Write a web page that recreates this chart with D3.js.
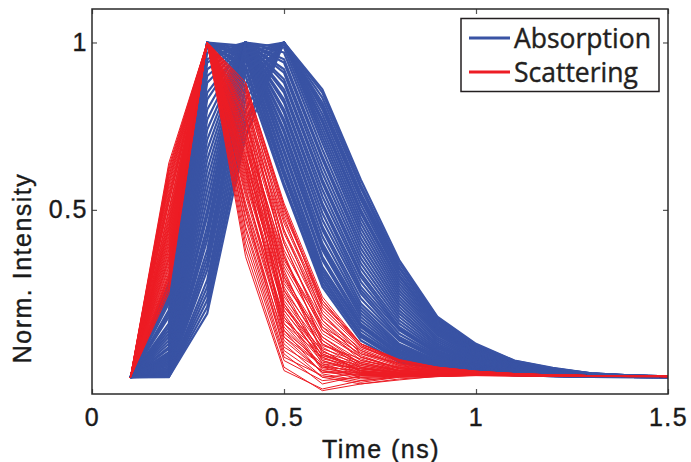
<!DOCTYPE html>
<html>
<head>
<meta charset="utf-8">
<script src="https://cdn.jsdelivr.net/npm/d3@7"></script>
<style>
  html, body { margin: 0; padding: 0; background: #ffffff; }
  svg { display: block; }
  .tick text { font-family: "Liberation Sans", Arial, sans-serif; font-size: 25px; letter-spacing: 1.5px; fill: #1a1a1a; stroke: #1a1a1a; stroke-width: 0.4px; }
  .axis-title { font-family: "Liberation Sans", Arial, sans-serif; font-size: 25px; letter-spacing: 1.5px; fill: #1a1a1a; stroke: #1a1a1a; stroke-width: 0.4px; }
  .legend-text { font-family: "Open Sans", sans-serif; font-size: 26.5px; fill: #231f20; stroke: #231f20; stroke-width: 0.4px; }
</style>
</head>
<body>
<svg id="chart" width="691" height="462"></svg>
<script>
// Sampling times of every curve (ns)
const timeNs = [0.1, 0.2, 0.3, 0.4, 0.5, 0.6, 0.7, 0.8, 0.9, 1.0, 1.1, 1.2, 1.3, 1.4, 1.5];

// Axis ticks and their labels
const xTicks = [0, 0.5, 1, 1.5];
const xTickLabels = ["0", "0.5", "1", "1.5"];
const yTicks = [0.5, 1];
const yTickLabels = ["0.5", "1"];

// Legend entries
const seriesNames = ["Absorption", "Scattering"];
const seriesColors = ["#3953a4", "#ed1c24"];

// Normalized intensity curves, absorption changes (early-peaking ones)
const absorptionEarly = [
  [0, .28, 1, .90, .57, .27, .11, .045, .025, .012, .006, .003, .001, 0, 0],
  [0, .27, 1, .92, .58, .28, .12, .05, .026, .013, .006, .003, .001, 0, 0],
  [0, .26, 1, .93, .60, .29, .125, .053, .027, .014, .007, .003, .001, .001, 0],
  [0, .25, 1, .95, .61, .30, .13, .057, .029, .014, .007, .004, .002, .001, 0],
  [0, .24, 1, .96, .62, .31, .14, .06, .03, .015, .008, .004, .002, .001, 0],
  [0, .23, 1, .97, .64, .32, .15, .065, .032, .016, .008, .004, .002, .001, 0],
  [0, .22, 1, .98, .65, .33, .155, .07, .035, .017, .009, .004, .002, .001, 0],
  [0, .20, 1, .99, .67, .35, .16, .075, .037, .018, .009, .005, .002, .001, 0],
  [0, .19, .97, 1, .68, .36, .17, .08, .04, .02, .01, .005, .002, .001, 0],
  [0, .18, .95, 1, .70, .38, .18, .085, .042, .021, .01, .005, .002, .001, 0],
  [0, .16, .94, 1, .71, .39, .19, .09, .045, .022, .011, .005, .003, .001, 0],
  [0, .15, .92, 1, .73, .40, .20, .095, .047, .024, .012, .006, .003, .001, 0],
  [0, .14, .90, 1, .74, .42, .21, .10, .05, .025, .012, .006, .003, .001, 0],
  [0, .13, .88, 1, .76, .44, .22, .11, .054, .027, .013, .007, .003, .001, 0]
];

// Absorption curves peaking around 0.4 ns
const absorptionMid = [
  [0, .12, .85, 1, .77, .45, .235, .115, .057, .028, .014, .007, .003, .002, .001],
  [0, .11, .83, 1, .79, .47, .25, .12, .061, .03, .015, .008, .004, .002, .001],
  [0, .10, .80, 1, .80, .49, .26, .13, .065, .032, .016, .008, .004, .002, .001],
  [0, .09, .77, 1, .82, .51, .27, .14, .069, .034, .017, .009, .004, .002, .001],
  [0, .085, .74, 1, .83, .52, .285, .145, .072, .036, .018, .009, .004, .002, .001],
  [0, .075, .71, 1, .85, .54, .30, .15, .076, .038, .019, .01, .005, .002, .001],
  [0, .07, .68, 1, .86, .56, .31, .16, .08, .04, .02, .01, .005, .002, .001],
  [0, .065, .65, 1, .88, .58, .325, .17, .085, .043, .021, .011, .005, .002, .001],
  [0, .06, .62, 1, .89, .59, .34, .18, .09, .045, .022, .011, .005, .003, .001],
  [0, .055, .59, 1, .91, .61, .355, .19, .095, .048, .024, .012, .006, .003, .001],
  [0, .05, .56, 1, .92, .63, .37, .20, .10, .05, .025, .013, .006, .003, .001],
  [0, .045, .53, 1, .94, .65, .385, .21, .106, .053, .027, .014, .007, .003, .001],
  [0, .04, .50, 1, .95, .66, .40, .22, .112, .056, .028, .014, .007, .003, .002],
  [0, .035, .48, 1, .97, .68, .415, .23, .118, .06, .03, .015, .007, .004, .002]
];

// Absorption curves peaking at 0.5 ns
const absorptionLate = [
  [0, .03, .45, 1, .985, .70, .43, .24, .125, .063, .031, .016, .008, .004, .002],
  [0, .025, .43, .98, 1, .715, .445, .25, .13, .066, .033, .017, .008, .004, .002],
  [0, .02, .41, .965, 1, .73, .46, .26, .135, .069, .035, .018, .009, .004, .002],
  [0, .018, .38, .95, 1, .745, .475, .27, .14, .072, .036, .019, .009, .005, .002],
  [0, .015, .36, .93, 1, .76, .49, .28, .145, .075, .038, .02, .01, .005, .002],
  [0, .012, .34, .91, 1, .77, .50, .29, .15, .078, .04, .021, .01, .005, .002],
  [0, .01, .32, .88, 1, .785, .515, .30, .155, .082, .042, .022, .01, .005, .002],
  [0, .007, .29, .86, 1, .80, .53, .305, .16, .085, .043, .023, .011, .005, .002],
  [0, .005, .27, .83, 1, .81, .54, .315, .165, .088, .045, .024, .011, .005, .002],
  [0, .003, .25, .80, 1, .82, .55, .325, .17, .091, .046, .025, .011, .006, .003],
  [0, .002, .23, .77, 1, .835, .565, .33, .173, .094, .047, .026, .012, .006, .003],
  [0, .001, .21, .75, 1, .85, .575, .34, .177, .097, .049, .027, .012, .006, .003],
  [0, 0, .19, .72, 1, .86, .59, .35, .18, .10, .05, .028, .012, .006, .003]
];

// Scattering curves with a fast decay
const scatteringFast = [
  [0, .62, 1, .36, .02, -.035, -.01, 0, .002, .005, .004, .003, .003, .002, .002],
  [0, .64, 1, .38, .03, -.04, -.02, -.005, .002, .006, .004, .003, .003, .002, .002],
  [0, .60, 1, .40, .05, -.01, 0, .003, .004, .005, .004, .003, .002, .002, .002],
  [0, .63, 1, .42, .06, .005, -.015, 0, .003, .006, .005, .004, .003, .002, .002],
  [0, .58, 1, .44, .07, -.02, .005, .004, .005, .006, .005, .004, .003, .002, .002],
  [0, .61, 1, .45, .09, .02, -.005, .002, .004, .007, .005, .004, .003, .003, .002],
  [0, .55, 1, .47, .10, 0, .01, .006, .006, .007, .005, .004, .003, .003, .002],
  [0, .59, 1, .48, .12, .035, 0, .004, .005, .006, .005, .004, .003, .003, .002],
  [0, .52, 1, .50, .11, .015, .015, .008, .006, .008, .006, .004, .003, .003, .002],
  [0, .57, 1, .51, .14, .04, .008, .005, .007, .008, .006, .004, .003, .003, .002],
  [0, .50, 1, .52, .15, .03, .02, .01, .008, .008, .006, .004, .004, .003, .002],
  [0, .54, 1, .54, .16, .06, .012, .006, .007, .009, .006, .005, .004, .003, .002],
  [0, .47, 1, .55, .18, .045, .025, .012, .009, .009, .006, .005, .004, .003, .002],
  [0, .53, 1, .56, .17, .07, .02, .008, .008, .009, .007, .005, .004, .003, .002],
  [0, .45, 1, .58, .20, .055, .03, .015, .01, .01, .007, .005, .004, .003, .003],
  [0, .50, 1, .59, .21, .08, .018, .01, .009, .01, .007, .005, .004, .003, .003],
  [0, .43, 1, .60, .22, .065, .035, .018, .012, .01, .007, .005, .004, .003, .003],
  [0, .48, 1, .62, .24, .09, .028, .012, .01, .011, .008, .005, .004, .003, .003],
  [0, .41, 1, .63, .23, .075, .04, .02, .013, .011, .008, .006, .004, .003, .003],
  [0, .46, 1, .64, .26, .10, .035, .015, .012, .011, .008, .006, .004, .003, .003]
];

// Scattering curves with a slower decay
const scatteringSlow = [
  [0, .39, 1, .65, .27, .085, .045, .022, .014, .012, .008, .006, .004, .003, .003],
  [0, .44, 1, .66, .29, .11, .04, .018, .013, .012, .008, .006, .004, .003, .003],
  [0, .37, 1, .68, .30, .12, .05, .025, .016, .012, .009, .006, .005, .004, .003],
  [0, .42, 1, .69, .31, .095, .055, .02, .015, .013, .009, .006, .005, .004, .003],
  [0, .35, 1, .70, .33, .13, .06, .028, .018, .013, .009, .006, .005, .004, .003],
  [0, .40, 1, .72, .34, .15, .05, .03, .017, .013, .009, .007, .005, .004, .003],
  [0, .33, 1, .73, .36, .14, .07, .032, .02, .014, .009, .007, .005, .004, .003],
  [0, .38, 1, .74, .35, .16, .065, .026, .019, .014, .01, .007, .005, .004, .003],
  [0, .31, 1, .76, .38, .17, .075, .035, .021, .015, .01, .007, .005, .004, .003],
  [0, .36, 1, .77, .40, .15, .08, .038, .02, .015, .01, .007, .005, .004, .003],
  [0, .30, 1, .78, .41, .18, .085, .04, .022, .015, .01, .007, .005, .004, .003],
  [0, .34, 1, .80, .43, .19, .07, .042, .024, .016, .01, .007, .005, .004, .003],
  [0, .28, 1, .81, .44, .20, .09, .045, .025, .016, .01, .007, .005, .004, .003],
  [0, .32, 1, .82, .46, .21, .095, .04, .026, .017, .01, .007, .005, .004, .003],
  [0, .27, 1, .84, .47, .22, .10, .048, .027, .017, .011, .007, .005, .004, .003],
  [0, .30, 1, .85, .49, .23, .09, .05, .028, .017, .011, .007, .005, .004, .003],
  [0, .26, 1, .86, .50, .22, .10, .052, .029, .018, .011, .007, .005, .004, .003],
  [0, .29, 1, .87, .51, .21, .095, .048, .03, .018, .011, .007, .005, .004, .003],
  [0, .25, 1, .88, .51, .23, .10, .05, .03, .018, .011, .007, .005, .004, .003],
  [0, .27, 1, .88, .52, .24, .10, .053, .03, .018, .011, .007, .005, .004, .003]
];

// Scattering curves with mixed rise and decay
const scatteringMixed = [
  [0, .60, 1, .66, .20, .05, .01, .004, .006, .008, .006, .004, .003, .003, .002],
  [0, .56, 1, .72, .26, .06, .02, .008, .008, .009, .006, .005, .004, .003, .002],
  [0, .52, 1, .78, .30, .08, .015, .01, .009, .01, .007, .005, .004, .003, .002],
  [0, .49, 1, .83, .36, .11, .03, .012, .01, .01, .007, .005, .004, .003, .003],
  [0, .45, 1, .75, .22, .04, .025, .015, .01, .01, .007, .005, .004, .003, .003],
  [0, .42, 1, .70, .18, .02, .008, .006, .008, .009, .007, .005, .004, .003, .003],
  [0, .38, 1, .79, .28, .12, .04, .02, .014, .012, .008, .006, .004, .003, .003],
  [0, .35, 1, .84, .40, .14, .06, .03, .018, .014, .009, .006, .005, .004, .003],
  [0, .33, 1, .62, .14, .01, -.01, .002, .006, .008, .006, .005, .004, .003, .002],
  [0, .31, 1, .67, .19, .025, .012, .008, .009, .01, .007, .005, .004, .003, .003],
  [0, .29, 1, .74, .32, .07, .03, .014, .012, .011, .008, .006, .004, .003, .003],
  [0, .27, 1, .80, .37, .10, .045, .02, .015, .012, .008, .006, .005, .004, .003],
  [0, .58, 1, .57, .12, .015, .005, .006, .007, .008, .006, .005, .004, .003, .002],
  [0, .54, 1, .61, .16, .03, 0, .003, .006, .008, .006, .005, .004, .003, .002],
  [0, .47, 1, .86, .44, .17, .06, .025, .016, .013, .009, .006, .005, .004, .003],
  [0, .44, 1, .77, .25, .05, .02, .01, .01, .01, .007, .005, .004, .003, .003],
  [0, .40, 1, .71, .21, .065, .025, .012, .011, .011, .008, .006, .004, .003, .003],
  [0, .36, 1, .64, .13, .035, .015, .01, .009, .01, .007, .005, .004, .003, .002],
  [0, .62, 1, .50, .08, 0, -.02, -.008, .003, .006, .005, .004, .003, .002, .002],
  [0, .30, 1, .87, .48, .19, .08, .035, .02, .015, .01, .007, .005, .004, .003]
];

const svg = d3.select("#chart");
const plot = { left: 92, right: 668, top: 9, bottom: 394 };

const x = d3.scaleLinear().domain([0, 1.5]).range([plot.left, plot.right]);
const y = d3.scaleLinear().domain([-0.05, 1.1]).range([plot.bottom, plot.top]);

svg.append("defs").append("clipPath").attr("id", "plot-clip")
  .append("rect")
  .attr("x", plot.left).attr("y", plot.top)
  .attr("width", plot.right - plot.left).attr("height", plot.bottom - plot.top);

const line = d3.line()
  .x((d, i) => x(timeNs[i]))
  .y(d => y(d));

const curves = svg.append("g").attr("clip-path", "url(#plot-clip)");

// Absorption family first, scattering drawn over it
const absorption = absorptionEarly.concat(absorptionMid, absorptionLate);
const scattering = scatteringFast.concat(scatteringSlow, scatteringMixed);

curves.append("g").selectAll("path")
  .data(absorption)
  .join("path")
  .attr("d", line)
  .attr("fill", "none")
  .attr("stroke", seriesColors[0])
  .attr("stroke-width", 2.2)
  .attr("stroke-linejoin", "round");

curves.append("g").selectAll("path")
  .data(scattering)
  .join("path")
  .attr("d", line)
  .attr("fill", "none")
  .attr("stroke", seriesColors[1])
  .attr("stroke-width", 1)
  .attr("stroke-linejoin", "round");

// Axes: inward ticks on all four sides, labels on bottom and left
const fmtX = d => xTickLabels[xTicks.indexOf(d)];
const fmtY = d => yTickLabels[yTicks.indexOf(d)];

const gx = svg.append("g").attr("transform", `translate(0,${plot.bottom})`)
  .call(d3.axisBottom(x).tickValues(xTicks).tickFormat(fmtX).tickSize(-5).tickPadding(14));
const gy = svg.append("g").attr("transform", `translate(${plot.left},0)`)
  .call(d3.axisLeft(y).tickValues(yTicks).tickFormat(fmtY).tickSize(-5).tickPadding(4));
const gxTop = svg.append("g").attr("transform", `translate(0,${plot.top})`)
  .call(d3.axisTop(x).tickValues(xTicks).tickFormat("").tickSize(-5));
const gyRight = svg.append("g").attr("transform", `translate(${plot.right},0)`)
  .call(d3.axisRight(y).tickValues(yTicks).tickFormat("").tickSize(-5));

[gx, gy, gxTop, gyRight].forEach(g => {
  g.attr("font-family", null).attr("font-size", null);
  g.select(".domain").remove();
  g.selectAll(".tick line").attr("stroke", "#555").attr("stroke-width", 1.2);
});

svg.append("rect")
  .attr("x", plot.left).attr("y", plot.top)
  .attr("width", plot.right - plot.left).attr("height", plot.bottom - plot.top)
  .attr("fill", "none").attr("stroke", "#2a2a2a").attr("stroke-width", 1.5);

// Axis titles
svg.append("text").attr("class", "axis-title")
  .attr("x", 381).attr("y", 458)
  .attr("text-anchor", "middle")
  .text("Time (ns)");

svg.append("text").attr("class", "axis-title")
  .attr("transform", "translate(31,268) rotate(-90)")
  .attr("text-anchor", "middle")
  .text("Norm. Intensity");

// Legend
const legend = svg.append("g");
legend.append("rect")
  .attr("x", 461).attr("y", 18.5).attr("width", 198).attr("height", 73)
  .attr("fill", "#ffffff").attr("stroke", "#231f20").attr("stroke-width", 1.5);

seriesNames.forEach((name, i) => {
  const cy = 38 + i * 34;
  legend.append("line")
    .attr("x1", 469).attr("x2", 510).attr("y1", cy).attr("y2", cy)
    .attr("stroke", seriesColors[i]).attr("stroke-width", 3);
  legend.append("text").attr("class", "legend-text")
    .attr("x", 514).attr("y", cy + 10)
    .text(name);
});
</script>
</body>
</html>
